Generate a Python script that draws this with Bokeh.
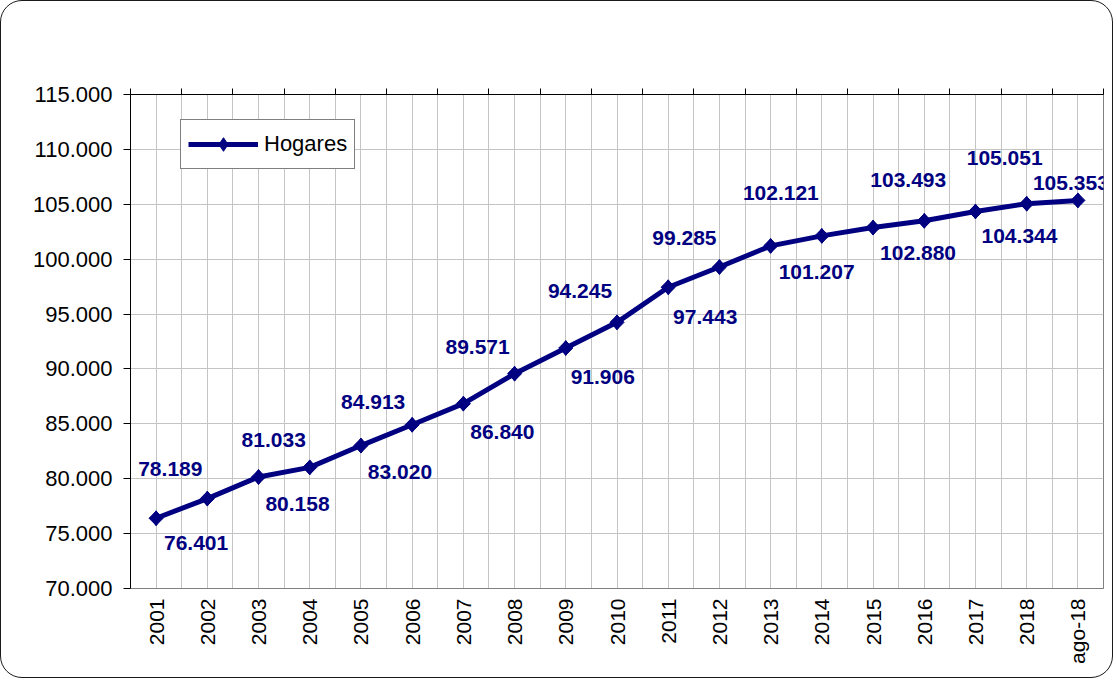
import math
from bokeh.plotting import figure
from bokeh.models import (Range1d, FixedTicker, LinearAxis, Legend, LegendItem,
                          LabelSet, ColumnDataSource)
from bokeh.core.properties import value
from bokeh.embed import file_html
from bokeh.resources import INLINE

# ---- data ----
categories = ["2001", "2002", "2003", "2004", "2005", "2006", "2007", "2008", "2009",
              "2010", "2011", "2012", "2013", "2014", "2015", "2016", "2017", "2018", "ago-18"]
hogares = [76401, 78189, 80158, 81033, 83020, 84913, 86840, 89571, 91906, 94245,
           97443, 99285, 101207, 102121, 102880, 103493, 104344, 105051, 105353]
y_ticks = [70000, 75000, 80000, 85000, 90000, 95000, 100000, 105000, 110000, 115000]
series_name = "Hogares"

# ---- layout of value labels (screen px; dx right, dy down) ----
label_dx = [40, -37, 39, -36, 39, -39, 39, -37, 37, -37, 37, -35, 46, -41, 45, -16, 44, -22, -7]
label_dy = [25, -30, 27, -27, 26, -23, 28, -27, 29, -31, 30, -29, 26, -43, 25, -41, 25, -46, -17]


def fmt(v):
    return f"{v:,}".replace(",", ".")


NAVY = "#000080"
FONT = "Liberation Sans"
xs = [i + 0.5 for i in range(len(categories))]

p = figure(width=1113, height=678, x_range=Range1d(0, len(categories)),
           y_range=Range1d(y_ticks[0], y_ticks[-1]),
           output_backend="svg", toolbar_location=None,
           min_border_left=129, min_border_right=11, min_border_top=93, min_border_bottom=91)
p.styles = {"border": "1px solid #1a1a1a", "border-radius": "22px"}
p.border_fill_color = None
p.background_fill_color = "white"
p.outline_line_color = "#808080"

# grids
p.xgrid.ticker = FixedTicker(ticks=[i * 0.5 for i in range(2 * len(categories) + 1)])
p.ygrid.ticker = FixedTicker(ticks=y_ticks)
p.grid.grid_line_color = "#c4c4c4"
p.grid.grid_line_width = 1

# bottom axis (category labels)
xa = p.xaxis[0]
xa.ticker = FixedTicker(ticks=xs)
xa.major_label_overrides = {x: c for x, c in zip(xs, categories)}
xa.major_label_orientation = math.pi / 2
xa.major_tick_out = 0
xa.major_tick_in = 0
xa.minor_tick_line_color = None
xa.axis_line_color = "#808080"
xa.major_label_standoff = 10
xa.major_label_text_font = FONT
xa.major_label_text_font_size = "21px"
xa.major_label_text_color = "black"

# left axis
ya = p.yaxis[0]
ya.ticker = FixedTicker(ticks=y_ticks)
ya.major_label_overrides = {t: fmt(t) for t in y_ticks}
ya.major_tick_out = 7
ya.major_tick_in = 0
ya.minor_tick_line_color = None
ya.axis_line_color = "black"
ya.major_tick_line_color = "black"
ya.major_label_standoff = 11
ya.major_label_text_font = FONT
ya.major_label_text_font_size = "22px"
ya.major_label_text_color = "black"

# top axis with tick marks at category boundaries
top = LinearAxis(ticker=FixedTicker(ticks=list(range(len(categories) + 1))),
                 major_label_text_font_size="0px", major_label_text_alpha=0,
                 major_tick_out=6, major_tick_in=0, minor_tick_line_color=None,
                 axis_line_color="black", major_tick_line_color="black")
p.add_layout(top, "above")

src = ColumnDataSource(dict(
    x=xs, y=hogares, text=[fmt(v) for v in hogares],
    dx=label_dx, dy=[-d for d in label_dy]))

line_r = p.line("x", "y", source=src, line_color=NAVY, line_width=5)
# diamond glyph (sits under the rotated squares; used for the legend swatch)
leg_mark = p.scatter("x", "y", source=src, marker="diamond", size=15,
                     fill_color=NAVY, line_color=NAVY, line_width=1)
mark_r = p.scatter("x", "y", source=src, marker="square", angle=math.pi / 4, size=10,
                   fill_color=NAVY, line_color=NAVY, line_width=1)

labels = LabelSet(x="x", y="y", text="text", x_offset="dx", y_offset="dy", source=src,
                  text_align="center", text_baseline="middle",
                  text_font=value(FONT), text_font_style="bold",
                  text_font_size=value("21px"), text_color=NAVY, level="overlay")
p.add_layout(labels)

legend = Legend(items=[LegendItem(label=series_name, renderers=[line_r, leg_mark])],
                location=(50, 419), glyph_width=70, glyph_height=34,
                label_standoff=6, padding=7, margin=0,
                label_text_font=FONT, label_text_font_size="22px",
                label_text_color="black",
                border_line_color="black", border_line_width=1,
                background_fill_color="white", background_fill_alpha=1)
p.add_layout(legend)

open("out.html", "w").write(file_html(p, INLINE))
